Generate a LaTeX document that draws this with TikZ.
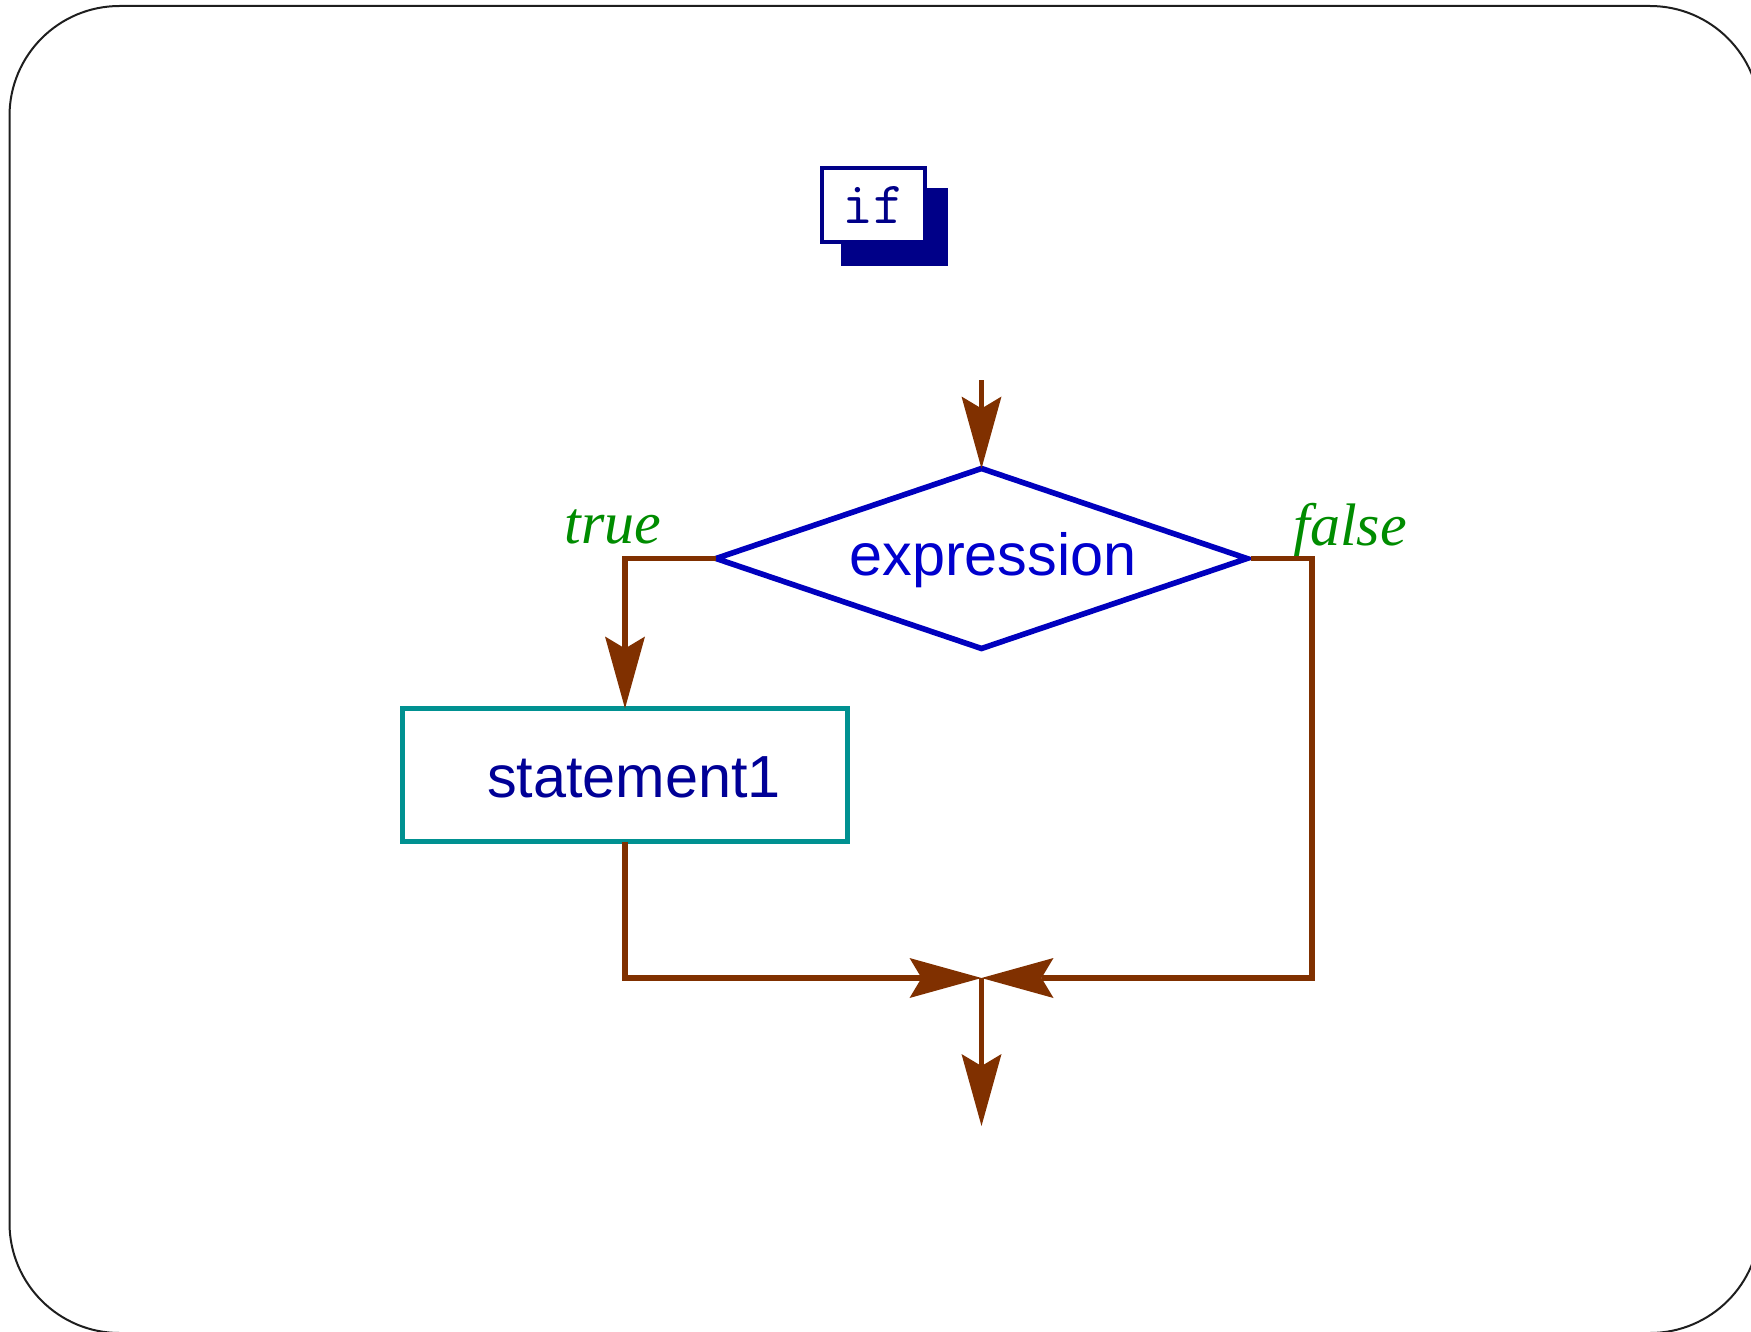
\documentclass[tikz,border=0pt]{standalone}
\usepackage{fontspec}
\setmainfont{Liberation Serif}
\setsansfont{Liberation Sans}
\usetikzlibrary{arrows.meta,shapes.geometric,shadows}
\definecolor{flowbrown}{RGB}{128,48,0}
\definecolor{condblue}{RGB}{0,0,190}
\definecolor{exprblue}{RGB}{0,0,205}
\definecolor{stmtnavy}{RGB}{0,0,150}
\definecolor{ifnavy}{RGB}{0,0,136}
\definecolor{boxteal}{RGB}{0,145,145}
\definecolor{labelgreen}{RGB}{0,140,0}
\definecolor{framegray}{RGB}{30,30,30}
\begin{document}
\begin{tikzpicture}[x=0.5pt,y=-0.5pt,
  frame/.style={draw=framegray, line width=1pt, rounded corners=55pt},
  cond/.style={diamond, draw=condblue, line width=2.8pt, minimum width=265.5pt,
    minimum height=90pt, inner sep=0pt, outer sep=0pt},
  stmtbox/.style={rectangle, draw=boxteal, line width=2.6pt, minimum width=222.5pt,
    minimum height=66.5pt, inner sep=0pt, outer sep=0pt},
  bigtext/.style={font=\sffamily\fontsize{29.7}{36}\selectfont, inner sep=0pt},
  branchlabel/.style={font=\itshape\fontsize{30}{36}\selectfont, text=labelgreen, inner sep=0pt},
  ifbox/.style={rectangle, draw=ifnavy, fill=white, line width=2pt, minimum width=51.5pt,
    minimum height=37pt, inner sep=0pt, text=ifnavy, font=\ttfamily\fontsize{30}{36}\selectfont,
    drop shadow={fill=ifnavy, draw=ifnavy, line width=2pt, opacity=1,
      shadow xshift=10.5pt, shadow yshift=-11pt}},
  flow/.style={draw=flowbrown, line width=2.8pt,
    -{Stealth[length=36pt,width=20pt,inset=6pt,line width=0pt]}}
]
\useasboundingbox (0,0) rectangle (1751,1332);
\draw[frame] (9.5,6) rectangle (1760,1333);

% title box
\node[ifbox] (title) at (873.5,205) {if};

% decision
\node[cond] (d) at (981.5,558.5) {};
\node[bigtext, text=exprblue, anchor=base] (dtext) at (993,575) {expression};

% statement box
\node[stmtbox] (r) at (625,775) {};
\node[bigtext, text=stmtnavy, anchor=base] (rtext) at (634,797) {statement1};

% labels
\node[branchlabel, anchor=base] (ltrue) at (613,543) {true};
\node[branchlabel, anchor=base] (lfalse) at (1350,545) {false};

% coordinates
\coordinate (in) at (981.5,380);
\coordinate (m) at (981.5,978);
\coordinate (fc) at (1312,978);
\coordinate (out) at (981.5,1126);

% connectors
\draw[flow] (in) -- (d.north);
\draw[flow] (d.west) -| (r.north);
\draw[flow] (r.south) |- (m);
\draw[flow] ([xshift=2pt]d.east) -| (fc) -- (m);
\draw[flow] (m) -- (out);
\end{tikzpicture}
\end{document}
